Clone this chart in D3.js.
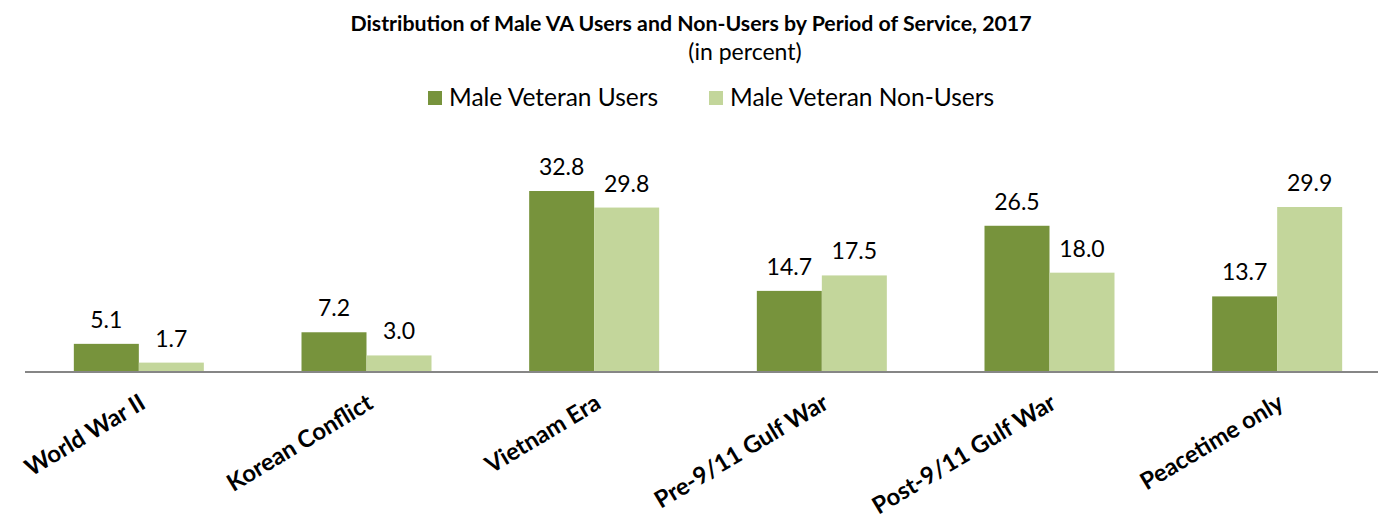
<!DOCTYPE html>
<html>
<head>
<meta charset="utf-8">
<script src="https://cdn.jsdelivr.net/npm/d3@7"></script>
<style>
  body { margin: 0; background: #fff; }
  text { font-family: Lato, "Open Sans", sans-serif; fill: #000; }
</style>
</head>
<body>
<div class="center"></div>
<script>
// chart data
const categories = ["World War II", "Korean Conflict", "Vietnam Era", "Pre-9/11 Gulf War", "Post-9/11 Gulf War", "Peacetime only"];
const seriesNames = ["Male Veteran Users", "Male Veteran Non-Users"];
const users = [5.1, 7.2, 32.8, 14.7, 26.5, 13.7];
const nonUsers = [1.7, 3.0, 29.8, 17.5, 18.0, 29.9];

const width = 1378, height = 518;
const baseY = 372;

const color = d3.scaleOrdinal().domain(seriesNames).range(["#77933C", "#C3D69B"]);

const svg = d3.select(".center").append("svg")
    .attr("width", width)
    .attr("height", height);

// x scales
const xScale = d3.scaleBand()
    .domain(categories)
    .range([25, 1391])
    .paddingInner(0)
    .paddingOuter(0);
const step = xScale.bandwidth();
const barW = 65;
const xSub = d3.scaleBand()
    .domain(seriesNames)
    .range([step / 2 - barW, step / 2 + barW]);

// y scale
const yScale = d3.scaleLinear()
    .domain([0, 32.8])
    .range([baseY, 191]);

const rows = categories.map((c, i) => ({cat: c, vals: [
    {s: seriesNames[0], v: users[i]},
    {s: seriesNames[1], v: nonUsers[i]}
]}));

const groups = svg.selectAll("g.grp")
    .data(rows)
    .enter().append("g")
    .attr("class", "grp")
    .attr("transform", d => `translate(${xScale(d.cat)},0)`);

groups.selectAll("rect")
    .data(d => d.vals)
    .enter().append("rect")
    .attr("x", d => xSub(d.s))
    .attr("width", xSub.bandwidth())
    .attr("y", d => yScale(d.v))
    .attr("height", d => baseY - yScale(d.v))
    .style("fill", d => color(d.s));

// value labels
groups.selectAll("text.val")
    .data(d => d.vals)
    .enter().append("text")
    .attr("class", "val")
    .attr("x", d => xSub(d.s) + xSub.bandwidth() / 2)
    .attr("y", d => yScale(d.v) - 16)
    .attr("text-anchor", "middle")
    .attr("font-size", "23px")
    .text(d => d.v.toFixed(1));

// axis line
svg.append("line")
    .attr("x1", 25).attr("x2", width)
    .attr("y1", baseY).attr("y2", baseY)
    .style("stroke", "#868686")
    .style("stroke-width", 2);

// category labels
svg.selectAll("text.cat")
    .data(categories)
    .enter().append("text")
    .attr("class", "cat")
    .attr("transform", d => `translate(${xScale(d) + step / 2 - 1},392) rotate(-31)`)
    .attr("text-anchor", "end")
    .attr("dy", "0.75em")
    .attr("font-size", "23.8px")
    .attr("font-weight", "700")
    .text(d => d);

// title
svg.append("text")
    .attr("x", 691).attr("y", 31)
    .attr("text-anchor", "middle")
    .attr("font-size", "21.3px")
    .attr("font-weight", "700")
    .text("Distribution of Male VA Users and Non-Users by Period of Service, 2017");

svg.append("text")
    .attr("x", 745).attr("y", 60)
    .attr("text-anchor", "middle")
    .attr("font-size", "23px")
    .text("(in percent)");

// legend
const legendX = [428, 709];
svg.selectAll("rect.leg")
    .data(seriesNames)
    .enter().append("rect")
    .attr("class", "leg")
    .attr("x", (d, i) => legendX[i])
    .attr("y", 91)
    .attr("width", 14)
    .attr("height", 14)
    .style("fill", d => color(d));

svg.selectAll("text.leg")
    .data(seriesNames)
    .enter().append("text")
    .attr("class", "leg")
    .attr("x", (d, i) => legendX[i] + 21)
    .attr("y", 106)
    .attr("font-size", "24.5px")
    .text(d => d);
</script>
</body>
</html>
